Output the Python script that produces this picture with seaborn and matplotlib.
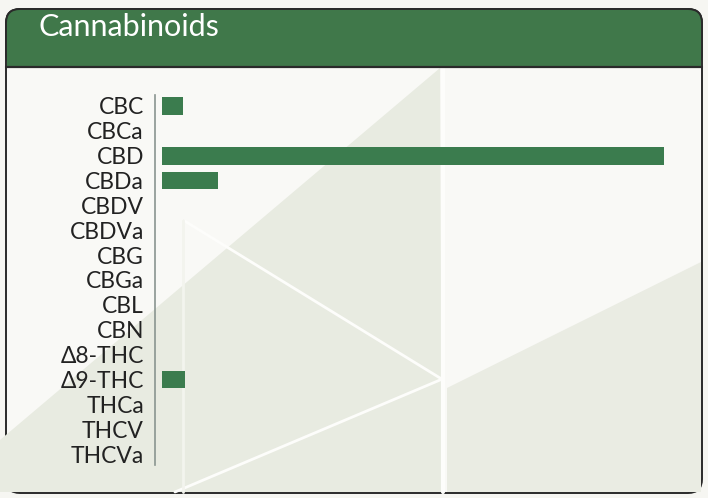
import matplotlib
matplotlib.use("Agg")
import matplotlib.pyplot as plt
import seaborn as sns
import pandas as pd
from matplotlib.patches import FancyBboxPatch, Polygon, Rectangle

# ------------------------------
# data (relative amounts, CBD = 100)
# ------------------------------
compounds = ["CBC", "CBCa", "CBD", "CBDa", "CBDV", "CBDVa", "CBG", "CBGa",
             "CBL", "CBN", "\u03948-THC", "\u03949-THC", "THCa", "THCV", "THCVa"]
amounts = [4.2, 0, 100, 11.2, 0, 0, 0, 0, 0, 0, 0, 4.6, 0, 0, 0]

df = pd.DataFrame({"Compound": compounds, "Amount": amounts})

sns.set_style("white")
plt.rcParams['font.family'] = ['Lato', 'DejaVu Sans']

W, H = 708, 498
fig = plt.figure(figsize=(W / 100, H / 100), dpi=100)
fig.patch.set_facecolor("#f6f6f2")

# card + header drawn in pixel space
bg = fig.add_axes([0, 0, 1, 1])
bg.set_xlim(0, W)
bg.set_ylim(H, 0)
bg.axis("off")

header_green = "#40784a"
card = FancyBboxPatch((6, 9), 696, 484, boxstyle="round,pad=0,rounding_size=14",
                      facecolor="#f9f9f6", edgecolor="#2a2a2a", lw=1.4)
bg.add_patch(card)

# faint watermark shapes
bg.add_patch(Polygon([(440, 68), (0, 440), (0, 492), (442, 492)],
                     closed=True, facecolor="#e8ebe1", edgecolor="none", zorder=1))
bg.add_patch(Polygon([(447, 388), (701, 262), (701, 492), (447, 492)],
                     closed=True, facecolor="#eaece3", edgecolor="none", zorder=1))
bg.plot([443, 443], [68, 492], color="#fdfdfb", lw=3, zorder=2)
bg.plot([183, 440], [220, 378], color="#fdfdfb", lw=2, zorder=2)
bg.plot([175, 440], [492, 380], color="#fdfdfb", lw=2, zorder=2)
bg.plot([183, 183], [220, 492], color="#f3f4ee", lw=2, zorder=2)

header = FancyBboxPatch((6, 9), 696, 58, boxstyle="round,pad=0,rounding_size=14",
                        facecolor=header_green, edgecolor="#2a2a2a", lw=1.4, zorder=3)
bg.add_patch(header)
bg.add_patch(Rectangle((7, 45), 694, 22, facecolor=header_green, edgecolor="none", zorder=3))
bg.plot([6, 702], [67, 67], color="#2a2a2a", lw=1.6, zorder=4)
bg.text(38, 36, "Cannabinoids", color="white", fontsize=22, ha="left",
        va="baseline", zorder=5)

# ------------------------------
# bar chart
# ------------------------------
ax = fig.add_axes([155 / W, 1 - 465 / H, 525 / W, 370 / H])
ax.patch.set_alpha(0)
sns.barplot(data=df, x="Amount", y="Compound", color="#3b7c4e", saturation=1,
            width=0.72, linewidth=0, ax=ax)
ax.set_xlim(-1.4, 103.2)
ax.set_ylim(14.44, -0.44)
ax.set_xlabel("")
ax.set_ylabel("")
ax.set_xticks([])
for s in ["top", "right", "bottom"]:
    ax.spines[s].set_visible(False)
ax.spines["left"].set_color("#8a9590")
ax.spines["left"].set_linewidth(1.2)
ax.tick_params(axis="y", length=0, pad=8, labelsize=16.5, labelcolor="#222222")

fig.savefig("out.png", dpi=100, facecolor=fig.get_facecolor())
